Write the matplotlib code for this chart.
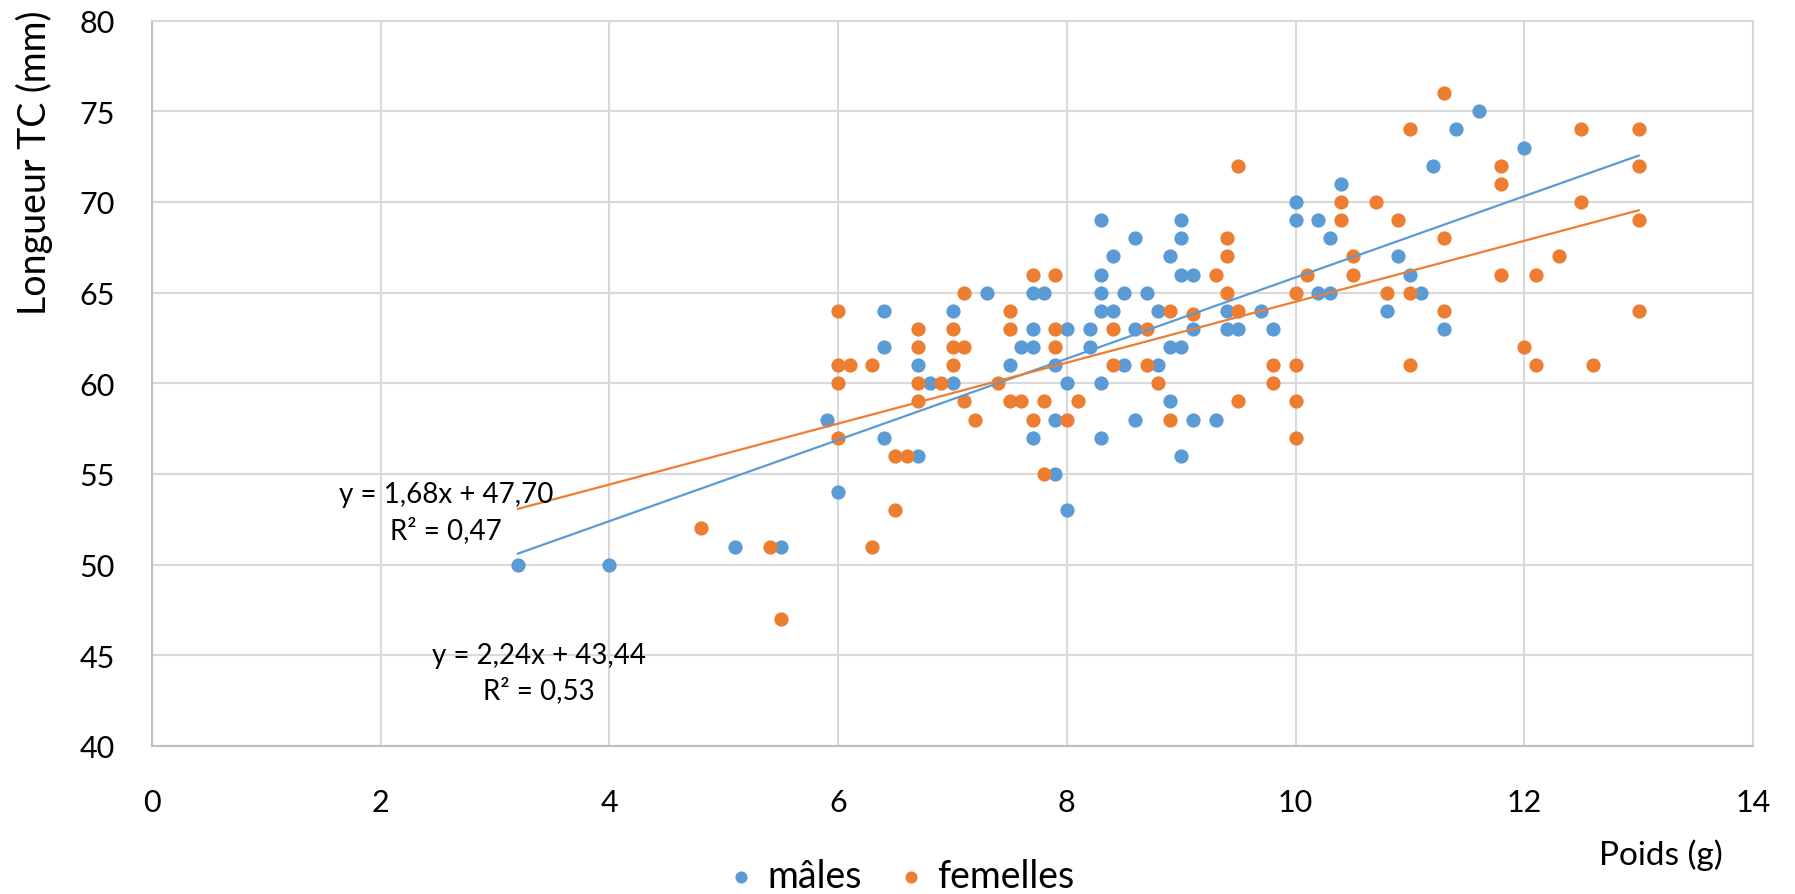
import numpy as np
import matplotlib
matplotlib.use('Agg')
import matplotlib.pyplot as plt

plt.rcParams['font.family'] = ['Lato', 'DejaVu Sans']

# mâles : poids (g), longueur TC (mm)
males_x = [3.2, 4.0, 5.1, 5.5, 5.9, 6.0, 6.4, 6.4, 6.4, 6.7, 6.7, 6.8, 7.0, 7.0, 7.3, 7.5, 7.6,
           7.7, 7.7, 7.7, 7.7, 7.8, 7.9, 7.9, 7.9, 8.0, 8.0, 8.0, 8.2, 8.2, 8.3, 8.3, 8.3, 8.3,
           8.3, 8.3, 8.4, 8.4, 8.5, 8.5, 8.6, 8.6, 8.6, 8.7, 8.8, 8.8, 8.9, 8.9, 8.9, 9.0, 9.0,
           9.0, 9.0, 9.0, 9.1, 9.1, 9.1, 9.3, 9.4, 9.4, 9.5, 9.7, 9.8, 10.0, 10.0, 10.2, 10.2,
           10.3, 10.3, 10.4, 10.8, 10.9, 11.0, 11.1, 11.2, 11.3, 11.4, 11.6, 12.0]
males_y = [50, 50, 51, 51, 58, 54, 64, 62, 57, 61, 56, 60, 64, 60, 65, 61, 62,
           65, 63, 62, 57, 65, 61, 58, 55, 63, 60, 53, 63, 62, 69, 66, 65, 64,
           60, 57, 67, 64, 65, 61, 68, 63, 58, 65, 64, 61, 67, 62, 59, 69, 68,
           66, 62, 56, 66, 63, 58, 58, 64, 63, 63, 64, 63, 70, 69, 69, 65,
           68, 65, 71, 64, 67, 66, 65, 72, 63, 74, 75, 73]

# femelles
fem_x = [4.8, 5.4, 5.5, 6.0, 6.0, 6.0, 6.0, 6.1, 6.3, 6.3, 6.5, 6.5, 6.6, 6.7, 6.7, 6.7, 6.7,
         6.9, 7.0, 7.0, 7.0, 7.1, 7.1, 7.1, 7.2, 7.4, 7.5, 7.5, 7.5, 7.6, 7.7, 7.7, 7.8, 7.8,
         7.9, 7.9, 7.9, 8.0, 8.1, 8.4, 8.4, 8.7, 8.7, 8.8, 8.9, 8.9, 9.1, 9.3, 9.4, 9.4, 9.4,
         9.5, 9.5, 9.5, 9.8, 9.8, 10.0, 10.0, 10.0, 10.0, 10.1, 10.4, 10.4, 10.5, 10.5, 10.7,
         10.8, 10.9, 11.0, 11.0, 11.0, 11.3, 11.3, 11.3, 11.8, 11.8, 11.8, 12.0, 12.1, 12.1,
         12.3, 12.5, 12.5, 12.6, 13.0, 13.0, 13.0, 13.0]
fem_y = [52, 51, 47, 64, 61, 60, 57, 61, 61, 51, 56, 53, 56, 63, 62, 60, 59,
         60, 63, 62, 61, 65, 62, 59, 58, 60, 64, 63, 59, 59, 66, 58, 59, 55,
         66, 63, 62, 58, 59, 63, 61, 63, 61, 60, 64, 58, 63.8, 66, 68, 67, 65,
         72, 64, 59, 61, 60, 65, 61, 59, 57, 66, 70, 69, 67, 66, 70,
         65, 69, 74, 65, 61, 76, 68, 64, 72, 71, 66, 62, 66, 61,
         67, 74, 70, 61, 74, 72, 69, 64]

# courbes de tendance (Excel)
trend_m = (2.24, 43.44, 0.53)
trend_f = (1.68, 47.70, 0.47)

blue = '#5B9BD5'
orange = '#ED7D31'
grid_c = '#D9D9D9'

fig = plt.figure(figsize=(17.95, 8.95), dpi=100)
ax = fig.add_axes([0.0847, 0.1654, 0.8919, 0.8104])

ax.scatter(males_x, males_y, s=105, color=blue, linewidths=0, zorder=3, label='mâles')
ax.scatter(fem_x, fem_y, s=105, color=orange, linewidths=0, zorder=3, label='femelles')

xs = np.array([min(males_x), max(fem_x)])
ax.plot(xs, trend_m[0] * xs + trend_m[1], color=blue, lw=1.6, zorder=4)
ax.plot(xs, trend_f[0] * xs + trend_f[1], color=orange, lw=1.6, zorder=4)

def fmt(v):
    return ('%.2f' % v).replace('.', ',')

ax.text(2.57, 52.9, 'y = %sx + %s\nR² = %s' % (fmt(trend_f[0]), fmt(trend_f[1]), fmt(trend_f[2])),
        ha='center', va='center', fontsize=20, linespacing=1.4, zorder=5)
ax.text(3.38, 44.05, 'y = %sx + %s\nR² = %s' % (fmt(trend_m[0]), fmt(trend_m[1]), fmt(trend_m[2])),
        ha='center', va='center', fontsize=20, linespacing=1.4, zorder=5)

ax.set_xlim(0, 14)
ax.set_ylim(40, 80)
ax.set_xticks(range(0, 15, 2))
ax.set_yticks(range(40, 81, 5))
ax.grid(True, color=grid_c, lw=1.5)
ax.set_axisbelow(True)
for s in ax.spines.values():
    s.set_color(grid_c)
    s.set_linewidth(1.5)
ax.spines['left'].set_color('#BFBFBF')
ax.spines['bottom'].set_color('#BFBFBF')
ax.tick_params(length=0, labelsize=22, colors='#000000')
ax.tick_params(axis='x', pad=30)
ax.tick_params(axis='y', pad=27)

fig.text(0.019, 0.988, 'Longueur TC (mm)', rotation=90, ha='center', va='top', fontsize=27)
fig.text(0.9254, 0.044, 'Poids (g)', ha='center', va='center', fontsize=24)

fig.legend(loc='center', bbox_to_anchor=(0.5025, 0.02), ncol=2, frameon=False, fontsize=27,
           handlelength=0.6, handletextpad=0.4, columnspacing=1.0, markerscale=0.85, borderpad=0)

fig.savefig('out.png', dpi=100, facecolor='white')
